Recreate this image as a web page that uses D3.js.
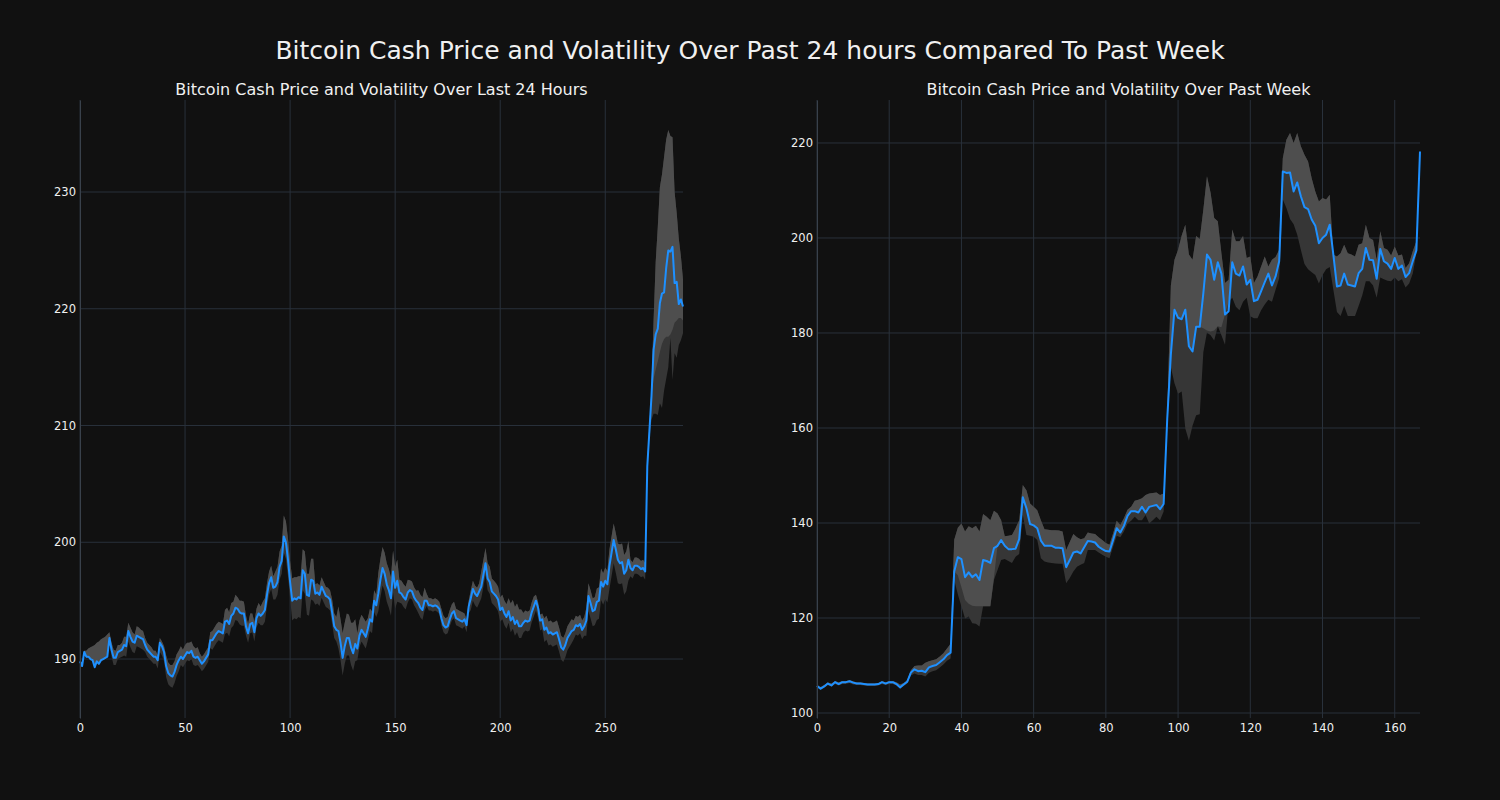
<!DOCTYPE html>
<html><head><meta charset="utf-8">
<script src="https://cdn.jsdelivr.net/npm/d3@7"></script>
<style>
body{margin:0;background:#111111;}
svg{display:block;}
text{font-family:"DejaVu Sans",sans-serif;fill:#f0f0f0;}
</style>
</head><body>
<svg id="chart" width="1500" height="800"></svg>
<script>
const mainTitle = "Bitcoin Cash Price and Volatility Over Past 24 hours Compared To Past Week";
const dayTitle = "Bitcoin Cash Price and Volatility Over Last 24 Hours";
const weekTitle = "Bitcoin Cash Price and Volatility Over Past Week";

const dayXTicks = [0, 50, 100, 150, 200, 250];
const dayYTicks = [190, 200, 210, 220, 230];
const weekXTicks = [0, 20, 40, 60, 80, 100, 120, 140, 160];
const weekYTicks = [100, 120, 140, 160, 180, 200, 220];

// 5-minute prices over last 24 hours (index 0..287)
const dayPrice = [
189.8,189.4,190.6,190.2,190.2,190.0,189.9,189.3,189.8,189.6,189.9,190.0,190.1,190.2,191.8,190.8,190.1,190.1,190.6,190.7,
190.8,191.2,191.1,192.4,191.9,191.5,191.4,192.0,191.9,191.8,191.7,191.2,190.8,190.6,190.4,190.2,190.2,189.9,191.4,191.1,
190.6,189.4,188.8,188.6,188.5,188.9,189.5,189.9,190.2,190.0,190.3,190.6,190.5,190.7,190.2,190.1,190.2,189.9,189.6,189.8,
190.1,190.4,191.6,191.6,191.9,192.2,192.4,192.3,192.2,193.2,193.3,193.0,193.7,193.9,194.4,194.3,194.0,193.9,193.9,192.8,
192.2,193.0,193.1,192.3,193.5,193.9,193.7,193.9,194.2,195.5,196.5,197.0,196.1,196.2,196.6,197.9,198.4,200.5,200.0,198.5,
196.6,195.0,195.2,195.1,195.3,195.2,197.6,197.3,195.5,195.4,196.8,196.7,195.6,195.7,195.5,196.2,195.8,195.4,195.3,195.1,
194.0,192.8,192.5,192.4,191.4,190.1,191.1,191.8,191.8,191.0,190.5,191.3,190.9,192.0,192.5,192.2,191.9,192.6,193.4,193.2,
195.0,194.6,195.6,196.8,197.8,197.3,196.4,195.9,195.2,197.5,196.1,196.7,195.7,195.6,195.3,195.1,195.7,195.9,195.8,195.3,
195.0,194.8,194.4,194.2,195.0,195.0,194.6,194.6,194.5,194.6,194.5,194.3,193.5,192.9,192.7,192.8,193.4,193.9,194.1,193.5,
193.4,193.3,193.2,193.4,192.9,194.5,195.2,196.0,195.6,195.4,195.8,196.2,197.2,198.2,196.9,196.6,195.8,195.6,195.4,195.1,
194.2,194.4,193.9,193.6,194.1,193.3,193.6,193.0,193.3,192.8,192.8,193.1,193.3,193.2,193.3,194.0,194.5,195.0,194.4,193.3,
193.4,192.5,192.7,192.2,192.3,192.1,192.2,192.3,191.7,191.0,190.8,191.2,191.8,192.1,192.4,192.5,192.9,192.8,193.0,192.5,
192.8,193.3,195.4,194.8,194.1,194.2,194.9,195.0,196.6,196.2,196.7,196.4,198.0,199.1,200.2,199.4,198.5,198.2,198.3,197.3,
197.6,198.5,197.8,197.6,198.0,198.0,197.9,197.7,197.8,197.5,206.5,209.5,212.5,216.5,217.8,218.3,220.5,221.3,221.4,223.5,
225.0,224.9,225.3,222.2,222.3,220.4,220.8,220.2
];
// distance from price to top of volatility band
const dayVolUp = [
0.1,0.1,0.1,0.5,0.7,1.0,1.2,1.9,1.6,1.9,1.8,1.8,1.8,1.9,0.5,0.6,0.7,0.6,0.6,0.5,
0.6,0.7,0.8,0.7,0.8,0.8,0.7,0.8,0.8,0.7,0.7,0.6,0.6,0.6,0.6,0.5,0.5,0.4,0.4,0.4,
0.5,0.9,0.9,0.9,1.0,0.9,0.9,0.8,0.9,0.8,0.9,0.8,0.9,0.8,0.9,0.8,0.8,0.6,0.6,0.6,
0.6,0.6,0.7,0.8,0.8,0.8,0.8,0.8,0.8,1.0,1.1,1.0,1.1,1.0,1.1,1.0,1.0,1.1,1.0,0.9,
0.8,0.9,0.8,0.9,0.8,0.9,0.8,1.0,1.0,1.0,1.0,1.0,1.0,1.3,1.3,1.3,1.3,1.8,1.8,1.8,
1.8,1.9,1.8,1.9,1.8,1.9,1.8,1.9,1.8,1.9,1.8,1.9,0.8,0.8,0.8,0.8,0.8,0.8,0.8,0.8,
1.1,1.1,1.1,2.1,2.0,2.1,2.0,2.1,2.0,2.1,2.6,2.1,1.3,1.3,1.3,1.3,1.3,0.9,0.9,0.9,
0.9,0.9,1.8,1.8,1.8,1.8,1.8,1.8,1.8,1.8,1.8,1.8,1.1,1.1,1.1,1.1,1.1,0.85,0.85,0.85,
0.85,1.1,1.1,1.1,1.1,0.6,0.6,0.6,0.6,0.6,0.6,0.6,0.8,0.8,0.8,0.8,0.8,0.8,0.8,0.8,
0.8,0.8,0.8,0.5,0.5,0.5,0.7,0.7,0.7,0.7,0.7,1.3,1.3,1.3,1.3,1.3,1.1,1.1,1.1,1.1,
1.1,1.1,1.1,1.1,1.1,1.45,1.45,1.45,1.45,1.45,1.45,0.85,0.85,0.85,0.85,0.85,0.85,0.5,0.5,0.5,
0.5,1.0,1.0,1.0,1.0,1.0,1.0,1.0,1.0,1.0,1.0,1.0,1.0,1.0,1.0,0.8,0.8,0.8,0.8,0.8,
0.8,1.1,1.1,1.1,1.1,1.1,1.15,1.15,1.15,1.15,1.15,1.15,1.4,1.4,1.4,1.4,1.4,1.6,1.6,1.6,
1.6,1.6,0.7,0.7,0.7,0.7,0.7,0.7,0.7,0.7,0.5,0.5,0.8,2.5,6.2,8.7,9.9,10.2,11.6,11.0,
10.3,9.9,9.4,7.8,5.9,5.6,3.7,2.3
];
// distance from price to bottom of volatility band
const dayVolDown = [
0.1,0.1,0.1,0.1,0.1,0.1,0.1,0.1,0.1,0.1,0.1,0.1,0.1,0.1,0.5,0.6,0.6,0.6,0.6,0.6,
0.6,0.9,0.9,0.9,0.9,0.9,0.9,0.9,0.9,0.9,0.9,0.6,0.6,0.6,0.6,0.6,0.6,0.7,0.8,0.8,
0.8,0.95,0.95,0.95,0.95,0.95,0.95,0.95,0.7,0.7,0.7,0.7,0.7,0.7,0.7,0.7,0.7,0.65,0.65,0.65,
0.65,0.65,0.65,0.8,0.8,0.8,0.8,0.8,0.8,1.05,1.05,1.05,1.05,1.05,1.05,1.05,1.05,1.05,1.05,0.8,
0.8,0.8,0.8,0.8,0.8,0.8,0.8,1.0,1.0,1.0,1.0,1.0,1.0,1.1,1.1,1.1,1.1,1.4,1.4,1.4,
1.4,1.7,1.7,1.7,1.7,1.7,1.7,1.7,1.7,1.7,1.7,1.7,0.95,0.95,0.95,0.95,0.95,0.95,0.95,0.95,
1.0,1.0,1.0,1.5,1.5,1.5,1.5,1.5,1.5,1.5,1.5,1.5,1.0,1.0,1.0,1.0,1.0,1.0,1.0,1.0,
1.0,1.0,1.5,1.5,1.5,1.5,1.5,1.5,1.5,1.8,1.8,1.8,0.85,0.85,0.85,0.85,0.85,0.7,0.7,0.7,
0.7,0.85,0.85,0.85,0.85,0.45,0.45,0.45,0.45,0.45,0.45,0.45,0.6,0.6,0.6,0.6,0.6,0.6,0.6,0.6,
0.6,0.6,0.6,0.6,0.6,0.6,1.0,1.0,1.0,1.0,1.0,1.0,1.0,1.0,1.0,1.0,1.0,1.0,1.0,1.0,
1.0,1.0,1.0,1.0,1.0,1.0,1.0,1.0,1.0,1.0,1.0,0.85,0.85,0.85,0.85,0.85,0.85,0.85,0.85,0.85,
0.85,1.05,1.05,1.05,1.05,1.05,1.05,1.05,1.05,1.05,1.05,1.05,1.05,1.05,1.05,0.8,0.8,0.8,0.8,0.8,
0.8,1.3,1.3,1.3,1.3,1.3,1.55,1.55,1.55,1.55,1.55,1.55,2.0,2.0,2.0,2.0,2.0,1.8,1.8,1.8,
1.8,1.8,0.7,0.7,0.7,0.7,0.7,0.7,0.7,0.7,0.7,0.7,2.0,5.5,6.8,7.4,8.6,9.8,8.4,9.5,
10.0,7.4,11.4,6.0,6.5,3.5,3.5,2.3
];
// where the lighter shade reaches below the price line (index, value)
const dayLightIdx = [273, 274, 275, 276, 277, 278, 279, 280, 281, 282, 283, 284, 285, 286, 287];
const dayLightVal = [214.0, 214.8, 215.5, 216.3, 217.0, 217.4, 217.6, 217.6, 217.8, 218.2, 218.8, 219.0, 219.2, 219.2, 219.0];

// hourly prices over past week (index 0..167)
const weekPrice = [
105.7,105.1,105.6,106.2,105.8,106.5,106.1,106.5,106.5,106.7,106.4,106.2,106.2,106.1,106.0,106.0,106.0,106.1,106.5,106.2,
106.5,106.5,106.1,105.4,106.0,106.6,108.5,109.2,108.8,108.9,108.6,109.6,109.9,110.1,110.7,111.3,112.2,112.7,129.8,132.8,
132.4,128.6,129.6,128.6,129.2,128.0,132.2,132.0,131.6,134.7,135.2,136.4,135.2,134.5,134.5,134.6,136.6,145.4,143.1,139.8,
139.5,138.9,136.3,135.2,135.2,135.2,134.8,134.8,134.7,130.7,132.2,133.8,134.0,133.6,134.9,136.2,136.1,135.9,135.0,134.5,
134.1,134.0,136.4,138.9,138.0,139.4,141.5,142.5,142.5,142.2,143.4,142.2,143.4,143.6,143.8,142.9,144.0,162.0,175.5,184.9,
183.2,182.9,184.9,177.2,176.1,181.3,181.3,188.4,196.5,195.4,191.2,194.9,192.5,183.9,184.6,194.9,192.5,192.1,194.0,190.2,
191.2,186.7,187.0,188.8,190.7,192.5,190.0,191.9,195.1,214.0,213.7,213.8,209.8,211.7,208.8,206.5,206.1,203.9,202.6,198.9,
200.0,200.7,202.8,196.5,189.8,190.0,192.5,190.2,190.0,189.8,192.6,193.5,197.9,195.4,195.3,191.4,197.7,195.1,194.6,193.5,
195.8,193.5,194.2,191.8,192.6,195.1,197.4,218.2
];
const weekUpper = [
105.9,105.5,105.9,106.4,106.2,106.7,106.5,106.7,106.7,106.9,106.7,106.4,106.4,106.3,106.2,106.2,106.2,106.3,106.7,106.5,
106.7,106.7,106.5,106.0,106.3,106.9,109.0,109.9,110.0,110.0,110.6,110.9,111.1,111.3,111.9,112.6,113.6,114.6,136.5,139.0,
139.9,138.2,139.3,138.9,139.4,138.2,141.9,141.3,140.6,142.6,142.0,140.6,137.2,137.3,137.5,138.9,140.6,148.0,146.9,144.1,
143.4,142.7,140.6,138.7,138.6,138.5,138.5,138.4,138.2,134.3,136.0,137.7,137.0,136.6,136.8,138.0,137.8,137.7,137.0,136.4,
135.8,135.4,137.8,140.5,139.6,141.0,142.8,143.4,144.7,144.9,145.2,145.9,146.2,146.3,146.4,145.9,146.2,163.0,190.0,195.4,
197.5,200.5,202.8,196.5,195.4,200.4,199.8,206.0,213.0,209.5,204.2,203.5,196.8,190.5,191.2,201.8,199.3,199.3,200.4,195.8,
196.1,190.5,191.9,194.0,196.1,194.0,195.4,196.0,197.5,216.8,220.7,222.1,220.0,222.1,219.3,217.5,216.1,212.6,209.8,207.7,
208.4,208.1,209.1,196.1,196.1,196.8,198.6,196.8,196.5,196.1,198.6,198.9,202.8,200.0,199.6,195.4,201.4,197.9,197.5,196.3,
198.2,196.3,196.5,193.7,194.7,197.2,199.3,218.2
];
const weekLower = [
105.4,104.9,105.3,105.9,105.6,106.1,105.8,106.1,106.1,106.3,106.0,105.9,105.9,105.8,105.7,105.7,105.7,105.8,106.1,105.9,
106.1,106.1,105.8,105.1,105.7,106.2,107.9,108.3,108.0,108.0,107.7,108.5,108.8,109.0,109.6,110.2,111.0,111.5,128.0,125.0,
122.4,119.9,120.3,118.9,118.8,118.2,122.5,122.5,122.5,128.0,130.1,132.2,132.4,132.0,131.6,132.9,133.5,141.7,137.5,137.3,
137.1,136.4,132.6,131.9,131.7,131.6,131.5,131.4,131.4,127.3,128.4,129.8,130.8,131.2,131.6,134.3,134.3,134.3,133.8,133.3,
132.9,132.6,135.0,137.3,137.0,138.2,139.9,140.5,141.3,140.6,140.6,141.7,139.9,140.6,141.3,140.6,142.4,160.0,172.8,169.4,
167.2,167.7,159.9,157.3,160.5,162.7,162.9,176.0,180.1,179.5,178.4,181.4,179.5,177.5,186.6,187.4,185.5,184.8,186.6,187.4,
183.5,183.1,183.1,184.8,186.0,187.0,186.6,189.1,191.5,208.1,206.3,204.0,202.9,200.7,197.5,194.5,193.4,192.8,192.2,190.4,
192.2,193.4,193.9,189.1,184.4,183.6,185.7,183.6,183.6,183.6,185.7,187.9,190.9,190.9,190.0,187.4,191.7,191.3,191.0,190.9,
191.7,190.9,191.3,189.6,190.4,192.5,196.9,218.0
];
const weekLightIdx = [39, 40, 41, 42, 43, 44, 45, 46, 47, 48, 49, 107, 108, 109, 110, 111, 112];
const weekLightVal = [129.0, 126.5, 123.8, 123.0, 122.6, 122.5, 122.5, 122.5, 122.5, 122.5, 128.5, 181.0, 180.5, 180.3, 180.5, 181.4, 181.2];

const dayUpper = dayPrice.map((p, i) => p + dayVolUp[i]);
const dayLower = dayPrice.map((p, i) => p - dayVolDown[i]);

const svg = d3.select("#chart");
svg.append("rect").attr("width", 1500).attr("height", 800).attr("fill", "#111111");

svg.append("text").attr("x", 750).attr("y", 59).attr("text-anchor", "middle")
  .attr("font-size", 25).text(mainTitle);

function panel(o) {
  const g = svg.append("g");
  const x = d3.scaleLinear().domain(o.xDomain).range([o.left, o.right]);
  const y = d3.scaleLinear().domain(o.yDomain).range([o.bottom, o.top]);
  const gridColor = "#29313b";
  g.append("g").selectAll("line").data(o.xTicks).join("line")
    .attr("x1", d => x(d)).attr("x2", d => x(d)).attr("y1", o.top).attr("y2", o.bottom)
    .attr("stroke", gridColor).attr("stroke-width", 1);
  g.append("g").selectAll("line").data(o.yTicks).join("line")
    .attr("y1", d => y(d)).attr("y2", d => y(d)).attr("x1", o.left).attr("x2", o.right)
    .attr("stroke", gridColor).attr("stroke-width", 1);

  const idx = d3.range(o.price.length);
  const floor = o.price.slice();
  o.lightIdx.forEach((k, j) => { floor[k] = o.lightVal[j]; });
  const lightLow = i => Math.max(o.lower[i], Math.min(floor[i], o.price[i]));
  const areaAll = d3.area().x(i => x(i)).y0(i => y(o.lower[i])).y1(i => y(o.upper[i]));
  const areaTop = d3.area().x(i => x(i)).y0(i => y(lightLow(i))).y1(i => y(Math.max(o.upper[i], o.price[i])));
  g.append("path").datum(idx).attr("d", areaAll).attr("fill", "#363636");
  g.append("path").datum(idx).attr("d", areaTop).attr("fill", "#4e4e4e");

  const line = d3.line().x(i => x(i)).y(i => y(o.price[i]));
  g.append("path").datum(idx).attr("d", line).attr("fill", "none")
    .attr("stroke", "#1e90ff").attr("stroke-width", 2).attr("stroke-linejoin", "round");

  const ax = g.append("g").attr("transform", `translate(0,${o.bottom})`)
    .call(d3.axisBottom(x).tickValues(o.xTicks).tickFormat(d3.format("d")).tickSize(0).tickPadding(6));
  ax.select(".domain").remove();
  const ay = g.append("g").attr("transform", `translate(${o.left},0)`)
    .call(d3.axisLeft(y).tickValues(o.yTicks).tickFormat(d3.format("d")).tickSize(0).tickPadding(4));
  ay.select(".domain").attr("stroke", "#39414b");
  g.selectAll(".tick text").attr("font-size", 11.5).attr("fill", "#f0f0f0")
    .attr("font-family", "DejaVu Sans, sans-serif");

  g.append("text").attr("x", (o.left + o.right) / 2).attr("y", o.top - 5)
    .attr("text-anchor", "middle").attr("font-size", 16).text(o.title);
}

panel({
  title: dayTitle, price: dayPrice, upper: dayUpper, lower: dayLower,
  lightIdx: dayLightIdx, lightVal: dayLightVal,
  xDomain: [0, 287], yDomain: [184.95, 237.88],
  left: 80, right: 683, top: 100, bottom: 718,
  xTicks: dayXTicks, yTicks: dayYTicks
});
panel({
  title: weekTitle, price: weekPrice, upper: weekUpper, lower: weekLower,
  lightIdx: weekLightIdx, lightVal: weekLightVal,
  xDomain: [0, 167], yDomain: [98.95, 229.05],
  left: 817, right: 1420, top: 100, bottom: 718,
  xTicks: weekXTicks, yTicks: weekYTicks
});
</script>
</body></html>
